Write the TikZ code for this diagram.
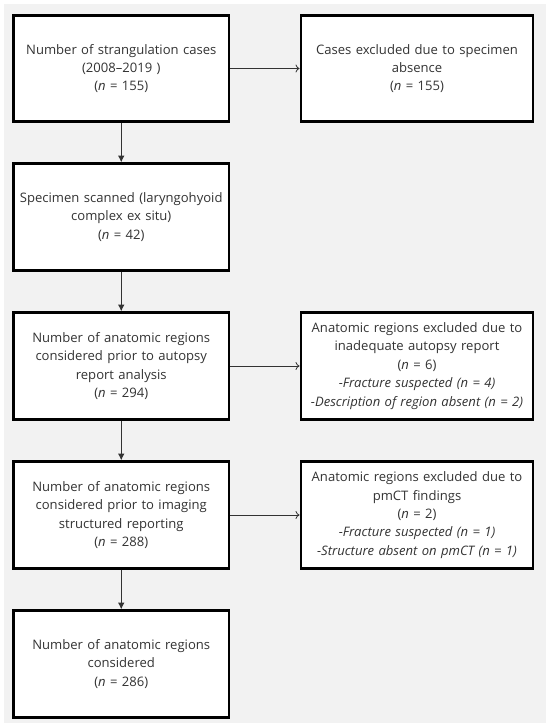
\documentclass[tikz,border=0pt]{standalone}
\usepackage{fontspec}
\setmainfont{Open Sans}
\usetikzlibrary{arrows.meta}
\definecolor{bggray}{HTML}{F2F2F2}
\definecolor{txtgray}{HTML}{333333}
\definecolor{linegray}{HTML}{333333}
\begin{document}
\begin{tikzpicture}[x=0.75pt,y=-0.75pt,
  box/.style={draw=black, line width=2.2pt, fill=white, inner sep=2pt,
    align=center, text=txtgray, font=\fontsize{9.8}{13.8}\selectfont},
  lbox/.style={box, minimum width=161.6pt, minimum height=79.8pt, text width=157pt},
  rbox/.style={box, minimum width=174pt, minimum height=79.8pt, text width=170pt},
  varrow/.style={draw=linegray, line width=0.75pt, -{Latex[length=5pt,width=5pt]}},
  harrow/.style={draw=linegray, line width=0.6pt, -{To[length=3pt,width=6pt]}}
]
\useasboundingbox (0,0) rectangle (550,728);
\fill[white] (0,0) rectangle (550,728);
\fill[bggray] (4,4) rectangle (546,723);

\node[lbox] (b1) at (121.25,68.5) {Number of strangulation cases\\(2008–2019 )\\(\textit{n} = 155)};
\node[rbox] (b2) at (417,68.5) {Cases excluded due to specimen\\absence\\(\textit{n} = 155)};
\node[lbox] (b3) at (121.25,217) {Specimen scanned (laryngohyoid\\complex ex situ)\\(\textit{n} = 42)};
\node[lbox] (b4) at (121.25,366) {Number of anatomic regions\\considered prior to autopsy\\report analysis\\(\textit{n} = 294)};
\node[rbox] (b5) at (417,366) {Anatomic regions excluded due to\\inadequate autopsy report\\(\textit{n} = 6)\\\textit{-Fracture suspected (n = 4)}\\\textit{-Description of region absent (n = 2)}};
\node[lbox] (b6) at (121.25,515) {Number of anatomic regions\\considered prior to imaging\\structured reporting\\(\textit{n} = 288)};
\node[rbox] (b7) at (417,515) {Anatomic regions excluded due to\\pmCT findings\\(\textit{n} = 2)\\\textit{-Fracture suspected (n = 1)}\\\textit{-Structure absent on pmCT (n = 1)}};
\node[lbox] (b8) at (121.25,664) {Number of anatomic regions\\considered\\(\textit{n} = 286)};

\draw[varrow] (b1) -- (b3);
\draw[varrow] (b3) -- (b4);
\draw[varrow] (b4) -- (b6);
\draw[varrow] (b6) -- (b8);
\draw[harrow] (b1) -- (b2);
\draw[harrow] (b4) -- (b5);
\draw[harrow] (b6) -- (b7);
\end{tikzpicture}
\end{document}
